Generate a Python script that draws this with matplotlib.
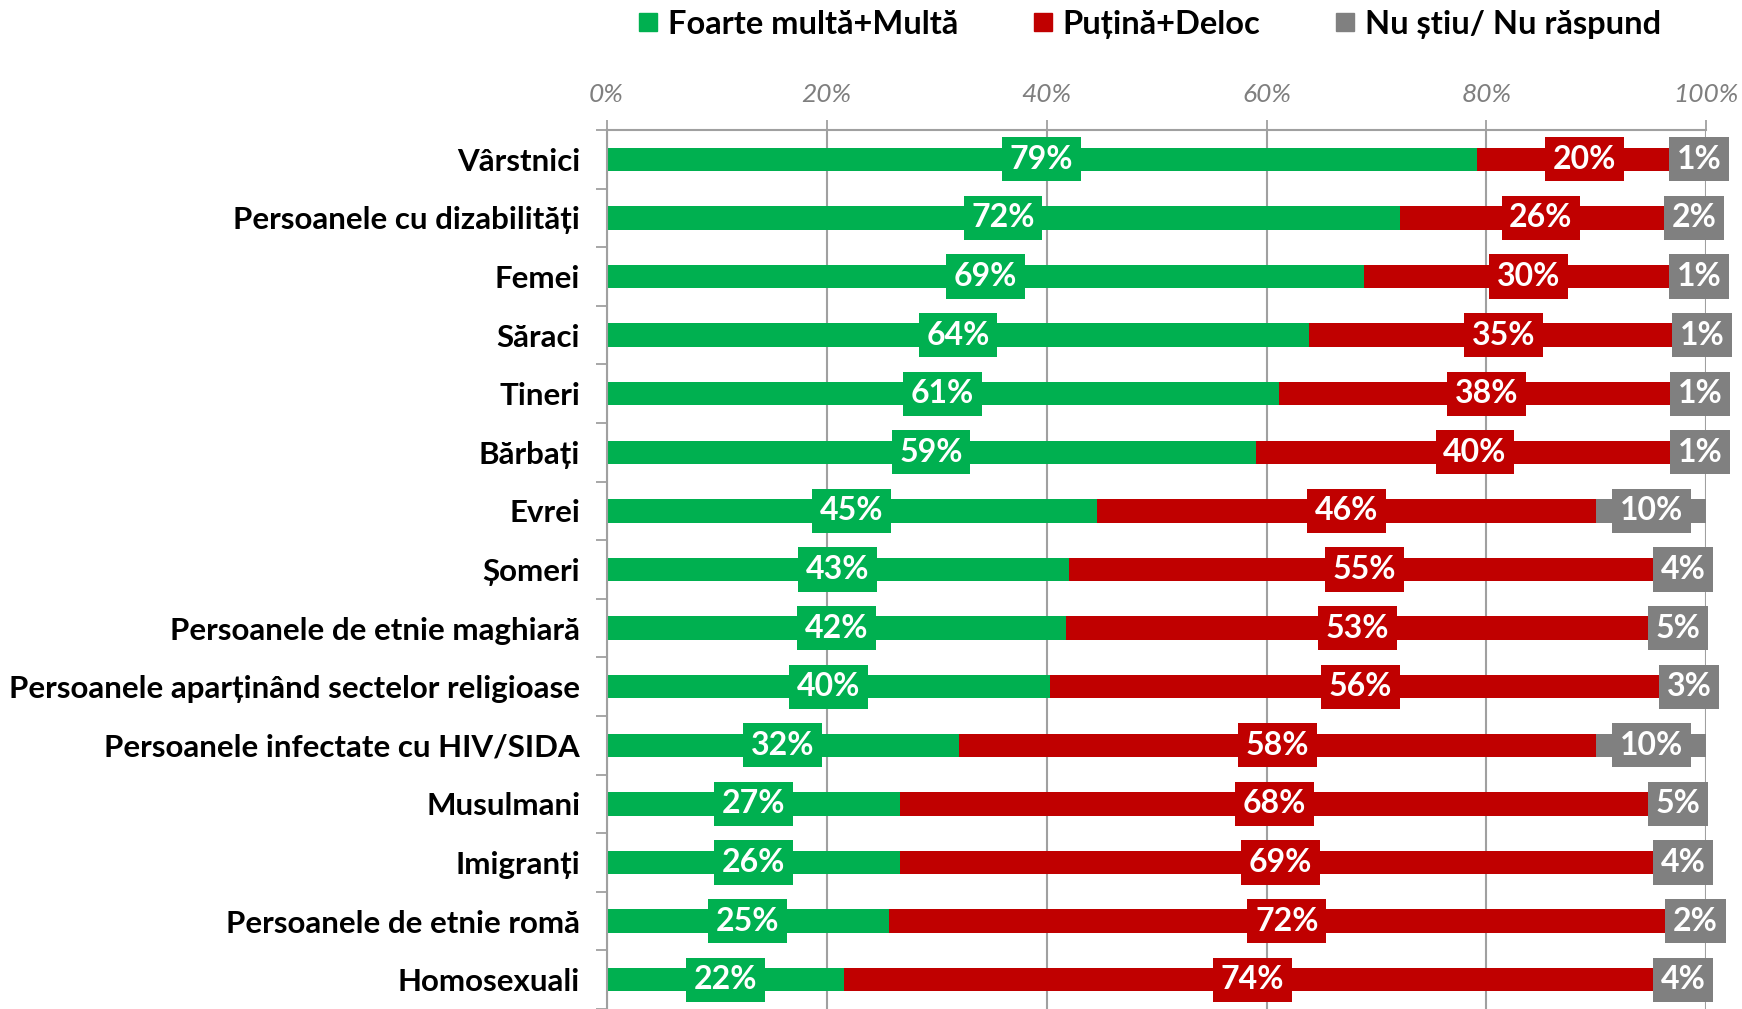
import numpy as np
import matplotlib.pyplot as plt
from matplotlib.lines import Line2D

plt.rcParams['font.family'] = ['Lato', 'DejaVu Sans']

# data (bar lengths in %, printed labels as ints)
categories = ['Vârstnici', 'Persoanele cu dizabilități', 'Femei', 'Săraci', 'Tineri',
              'Bărbați', 'Evrei', 'Șomeri', 'Persoanele de etnie maghiară',
              'Persoanele aparținând sectelor religioase', 'Persoanele infectate cu HIV/SIDA',
              'Musulmani', 'Imigranți', 'Persoanele de etnie romă', 'Homosexuali']
much = [79.1, 72.1, 68.9, 63.9, 61.1, 59.0, 44.6, 42.0, 41.8, 40.3, 32.0, 26.7, 26.7, 25.7, 21.6]
little = [19.6, 25.7, 29.8, 35.3, 37.8, 39.9, 45.4, 53.8, 53.0, 56.5, 58.0, 68.1, 69.1, 72.3, 74.2]
dunno = [1.3, 2.2, 1.3, 0.8, 1.1, 1.1, 10.0, 4.2, 5.2, 3.2, 10.0, 5.2, 4.2, 2.0, 4.2]
much_lbl = [79, 72, 69, 64, 61, 59, 45, 43, 42, 40, 32, 27, 26, 25, 22]
little_lbl = [20, 26, 30, 35, 38, 40, 46, 55, 53, 56, 58, 68, 69, 72, 74]
dunno_lbl = [1, 2, 1, 1, 1, 1, 10, 4, 5, 3, 10, 5, 4, 2, 4]

series_names = ['Foarte multă+Multă', 'Puțină+Deloc', 'Nu știu/ Nu răspund']
colors = ['#00B050', '#C00000', '#808080']

fig = plt.figure(figsize=(17.42, 10.09), dpi=100)
ax = fig.add_axes([0.3482, 0.0, 0.6314, 0.8712])

y = np.arange(len(categories))
left = np.zeros(len(categories))
for vals, lbls, col in zip([much, little, dunno], [much_lbl, little_lbl, dunno_lbl], colors):
    vals = np.array(vals)
    ax.barh(y, vals, left=left, height=0.4, color=col, zorder=2)
    for yi, l, v, lab in zip(y, left, vals, lbls):
        ax.text(l + v / 2, yi, f'{lab}%', ha='center', va='center', color='white',
                fontsize=23, fontweight='bold', zorder=4, clip_on=False,
                bbox=dict(facecolor=col, edgecolor='none', boxstyle='square,pad=0.24'))
    left = left + vals

ax.set_xlim(0, 100)
ax.set_ylim(len(categories) - 0.5, -0.5)

# x axis on top, italic grey
ax.xaxis.tick_top()
ax.set_xticks(np.arange(0, 101, 20))
ax.set_xticklabels([f'{v}%' for v in range(0, 101, 20)])
ax.tick_params(axis='x', length=7, width=1.3, color='#A0A0A0', pad=10,
               labelsize=19, labelcolor='#7F7F7F')
for t in ax.get_xticklabels():
    t.set_fontstyle('italic')
ax.grid(axis='x', color='#A0A0A0', linewidth=1.5, zorder=0)
ax.set_axisbelow(True)

# y axis: labels at centers, tick marks between rows
ax.set_yticks(y)
ax.set_yticklabels(categories, fontsize=22.5, fontweight='bold')
ax.tick_params(axis='y', which='major', length=0, pad=19)
ax.set_yticks(np.arange(-0.5, len(categories), 1), minor=True)
ax.tick_params(axis='y', which='minor', length=8, width=1.3, color='#A0A0A0')

for s in ['right', 'bottom']:
    ax.spines[s].set_visible(False)
for s in ['top', 'left']:
    ax.spines[s].set_color('#A0A0A0')
    ax.spines[s].set_linewidth(1.5)

handles = [Line2D([], [], marker='s', linestyle='none', markersize=12.5, color=c) for c in colors]
fig.legend(handles, series_names, loc='center', bbox_to_anchor=(0.66, 0.976), ncol=3,
           frameon=False, handlelength=0.6, handletextpad=0.3, columnspacing=2.3,
           prop={'size': 23.5, 'weight': 'bold'})

plt.savefig('out.png', dpi=100)
